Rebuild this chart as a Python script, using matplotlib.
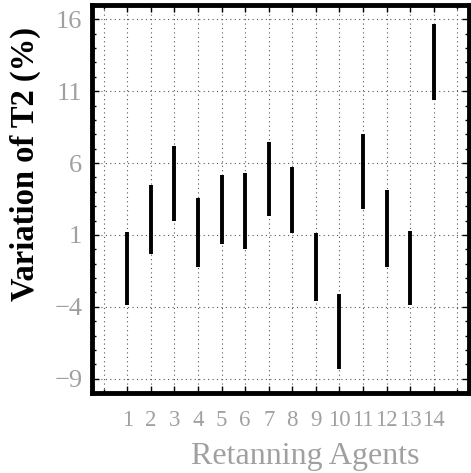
import numpy as np
import matplotlib
matplotlib.use("Agg")
import matplotlib.pyplot as plt
from matplotlib.ticker import MultipleLocator, FixedLocator

# Agentes de recurtido y rango de variacion de T2
agents = np.arange(1, 15)
low = [-3.9, -0.3, 2.0, -1.2, 0.35, 0.0, 2.3, 1.1, -3.6, -8.3, 2.8, -1.2, -3.9, 10.4]
high = [1.2, 4.5, 7.2, 3.6, 5.2, 5.3, 7.5, 5.7, 1.1, -3.1, 8.0, 4.1, 1.3, 15.7]
y_ticks = [-9, -4, 1, 6, 11, 16]
x_labels = [str(i) for i in agents]

plt.rcParams['font.family'] = ['Liberation Serif', 'DejaVu Serif']

fig = plt.figure(figsize=(4.71, 4.73), dpi=100)
ax = fig.add_axes([92 / 471, 80 / 473, 377 / 471, 388 / 473])

# Lineas de cuadricula punteadas
for gx in range(0, 16):
    ax.axvline(gx, color='#555555', lw=0.8, ls=(0, (1, 3)), zorder=1)
for gy in y_ticks:
    ax.axhline(gy, color='#555555', lw=0.8, ls=(0, (1, 3)), zorder=1)

ax.vlines(agents, low, high, color='black', lw=2.8, zorder=3)

ax.set_xlim(-0.5, 15.5)
ax.set_ylim(-10, 17)
ax.set_xticks(agents)
ax.set_xticklabels(x_labels)
ax.set_yticks(y_ticks)
ax.yaxis.set_minor_locator(MultipleLocator(1))
ax.xaxis.set_minor_locator(FixedLocator([0, 15]))

ax.tick_params(axis='both', which='both', direction='in', top=True, right=True,
               colors='black', labelcolor='#a0a0a0', width=1)
ax.tick_params(axis='both', which='major', length=5)
ax.tick_params(axis='both', which='minor', length=3)
ax.tick_params(axis='x', which='major', labelsize=16.5, pad=12)
ax.tick_params(axis='y', which='major', labelsize=19, pad=7)

for s in ax.spines.values():
    s.set_linewidth(3.5)

ax.set_ylabel('Variation of T2 (%)', fontsize=23.5, fontweight='bold')
ax.yaxis.set_label_coords(-0.135, 0.59)
ax.set_xlabel('Retanning Agents', fontsize=23, color='#a0a0a0')
ax.xaxis.set_label_coords(0.565, -0.125)

fig.savefig('out.png', dpi=100)
